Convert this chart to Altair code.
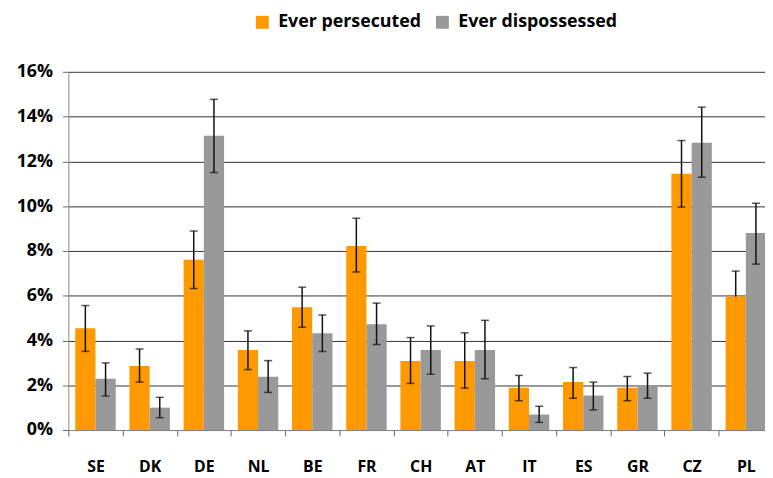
import altair as alt
import pandas as pd

countries = ["SE", "DK", "DE", "NL", "BE", "FR", "CH", "AT", "IT", "ES", "GR", "CZ", "PL"]
series_names = ["Ever persecuted", "Ever dispossessed"]

persecuted = [4.55, 2.86, 7.60, 3.57, 5.48, 8.22, 3.08, 3.08, 1.89, 2.15, 1.89, 11.45, 5.96]
persecuted_hi = [5.56, 3.62, 8.89, 4.43, 6.38, 9.46, 4.13, 4.34, 2.44, 2.79, 2.39, 12.93, 7.10]
persecuted_lo = [3.51, 2.14, 6.32, 2.70, 4.59, 7.06, 2.08, 1.87, 1.31, 1.42, 1.31, 9.96, None]

dispossessed = [2.29, 1.00, 13.14, 2.38, 4.32, 4.72, 3.57, 3.57, 0.69, 1.54, 1.98, 12.83, 8.80]
dispossessed_hi = [3.00, 1.46, 14.77, 3.10, 5.14, 5.67, 4.65, 4.90, 1.06, 2.14, 2.54, 14.42, 10.13]
dispossessed_lo = [1.52, 0.55, 11.50, 1.68, 3.51, 3.82, 2.49, 2.29, 0.34, 0.90, 1.42, 11.29, 7.41]

y_ticks = [0, 2, 4, 6, 8, 10, 12, 14, 16]
colors = ["#FF9900", "#999999"]

rows = []
for i, c in enumerate(countries):
    for s, v, hi, lo in [
        (series_names[0], persecuted[i], persecuted_hi[i], persecuted_lo[i]),
        (series_names[1], dispossessed[i], dispossessed_hi[i], dispossessed_lo[i]),
    ]:
        rows.append({
            "country": c, "series": s, "value": v, "hi": hi,
            "lo": lo, "lo_draw": lo if lo is not None else v,
        })
df = pd.DataFrame(rows)

FONT = "Open Sans"

x_enc = alt.X(
    "country:N", sort=countries, title=None,
    scale=alt.Scale(range=[0, 712], paddingInner=0, paddingOuter=0),
    axis=alt.Axis(
        tickBand="extent", tickSize=6, tickColor="#666", domainColor="#888",
        labelFont=FONT, labelFontSize=16, labelFontWeight="bold", labelColor="#000",
        labelPadding=23, labelAngle=0, grid=False,
    ),
)
xoff = alt.XOffset("series:N", sort=series_names,
                   scale=alt.Scale(paddingOuter=0.34, paddingInner=0))
y_scale = alt.Scale(domain=[0, 16], nice=False)

bars = alt.Chart(df).mark_bar().encode(
    x=x_enc,
    xOffset=xoff,
    y=alt.Y(
        "value:Q", scale=y_scale, title=None,
        axis=alt.Axis(
            values=y_ticks, labelExpr="datum.value + '%'", grid=True,
            gridColor="#333", gridWidth=1, tickColor="#666", tickSize=6,
            domainColor="#888", labelFont=FONT, labelFontSize=18,
            labelFontWeight="bold", labelColor="#000", labelPadding=10,
        ),
    ),
    color=alt.Color(
        "series:N", sort=series_names,
        scale=alt.Scale(domain=series_names, range=colors),
        legend=alt.Legend(
            title=None, orient="none", legendX=187, legendY=-59,
            direction="horizontal", symbolType="square", symbolSize=170,
            symbolStrokeWidth=0, labelFont=FONT, labelFontSize=18,
            labelFontWeight="bold", labelColor="#000", labelOffset=7,
            labelLimit=400, columnPadding=12,
        ),
    ),
)

rules = alt.Chart(df).mark_rule(color="#111", strokeWidth=1.5).encode(
    x=alt.X("country:N", sort=countries),
    xOffset=xoff,
    y=alt.Y("lo_draw:Q", scale=y_scale),
    y2="hi:Q",
)

caps_top = alt.Chart(df).mark_tick(color="#111", size=8, thickness=1.5).encode(
    x=alt.X("country:N", sort=countries),
    xOffset=xoff,
    y=alt.Y("hi:Q", scale=y_scale),
)

caps_bot = alt.Chart(df).transform_filter("datum.lo != null").mark_tick(
    color="#111", size=8, thickness=1.5
).encode(
    x=alt.X("country:N", sort=countries),
    xOffset=xoff,
    y=alt.Y("lo:Q", scale=y_scale),
)

chart = alt.layer(bars, rules, caps_top, caps_bot).properties(
    width=704, height=362,
    autosize=alt.AutoSizeParams(type="none"),
    padding={"left": 61, "top": 62, "right": 0, "bottom": 46},
).configure_view(stroke=None)

chart.save("out.html", embed_options={"renderer": "svg", "actions": False})
